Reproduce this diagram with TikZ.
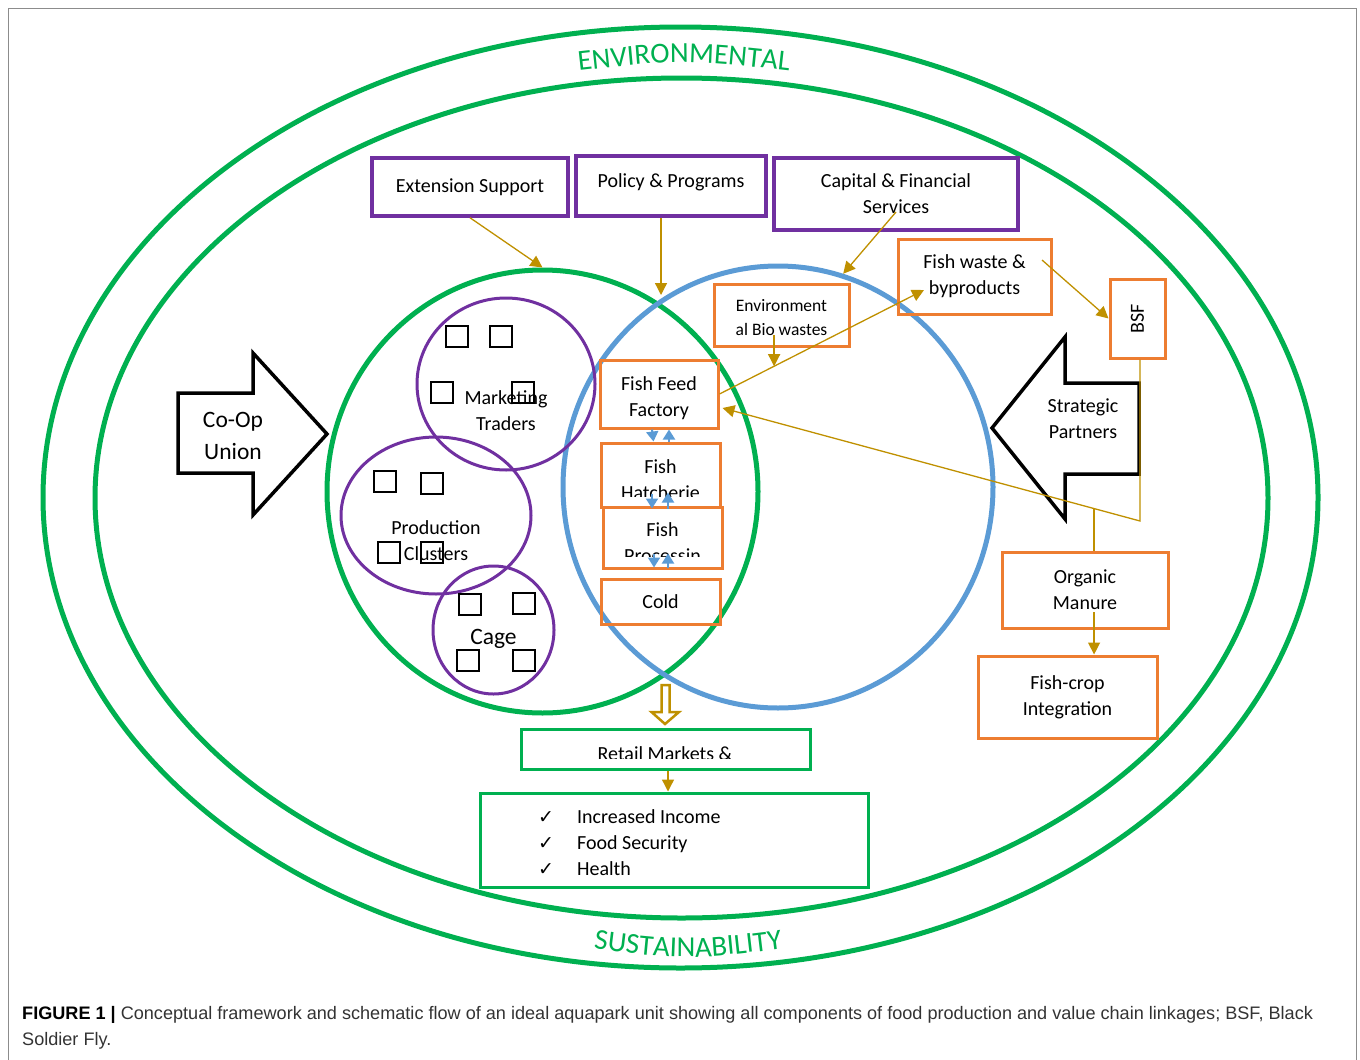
\documentclass[tikz,border=0pt]{standalone}
\usepackage{fontspec}
\setmainfont{Carlito}
\newfontfamily\capfont{Liberation Sans}
\newfontfamily\tickfont{DejaVu Sans}
\usetikzlibrary{shapes.geometric,arrows.meta,decorations.text}

\definecolor{ringgreen}{HTML}{00B050}
\definecolor{orgpurple}{HTML}{7030A0}
\definecolor{chainblue}{HTML}{5B9BD5}
\definecolor{unitorange}{HTML}{ED7D31}
\definecolor{flowgold}{HTML}{BF9000}

\tikzset{
  txt/.style={font=\fontsize{20}{26}\selectfont, align=center, inner sep=0pt},
  pbox/.style={txt, draw=orgpurple, line width=3.5pt},
  obox/.style={txt, draw=unitorange, line width=3pt},
  gbox/.style={txt, draw=ringgreen, line width=3pt},
  ring/.style={ellipse, draw=ringgreen, line width=5pt, inner sep=0pt},
  cluster/.style={ellipse, draw=orgpurple, line width=3pt, inner sep=0pt},
  feedline/.style={draw=flowgold, line width=1.3pt},
  flow/.style={feedline, -{Triangle[length=12pt,width=12pt]}},
  bflow/.style={draw=chainblue, line width=2pt, -{Triangle[length=10pt,width=12pt]}},
  bigarrow/.style={draw=black, line width=3.5pt, line join=miter},
  sq/.style={draw=black, line width=2pt},
}

\begin{document}
\begin{tikzpicture}[x=1pt,y=-1pt]
\useasboundingbox (0,0) rectangle (1360,1060);
\draw[black!45, line width=1pt] (8,8) rectangle (1356,1075);

% sustainability rings
\node[ring, minimum width=1275pt, minimum height=941pt] (outerring) at (680.5,497.5) {};
\node[ring, minimum width=1173pt, minimum height=840pt] (innerring) at (681.5,498) {};
\path[decorate, decoration={text along path, text align=center,
  text={|\fontsize{29}{29}\selectfont\color{ringgreen}|ENVIRONMENTAL}}]
  (560,73) .. controls (684,59) .. (808,73);
\path[decorate, decoration={text along path, text align=center,
  text={|\fontsize{29}{29}\selectfont\color{ringgreen}|SUSTAINABILITY}}]
  (566,945) .. controls (688,961) .. (810,945);

% value chain zones
\node[ring, minimum width=431pt, minimum height=443pt] (valuechain) at (542.5,491.5) {};
\node[ellipse, draw=chainblue, line width=5pt, inner sep=0pt,
  minimum width=430pt, minimum height=442pt] (bluezone) at (778,487) {};

% clusters
\node[cluster, minimum width=178pt, minimum height=172pt] (market) at (506,384) {};
\node[cluster, minimum width=190pt, minimum height=157pt] (production) at (436,515.5) {};
\node[cluster, minimum width=121pt, minimum height=128pt] (cage) at (493.5,630) {};
\foreach \x/\y in {457/336, 501/336, 441.5/392.5, 522.5/392.5,
                   385/481.5, 431.5/483.5, 388.5/552, 431.5/552,
                   469.5/604, 523.5/603.5, 467.5/660.5, 523.5/660.5}
  \draw[sq] (\x-11,\y-10.5) rectangle ++(22,21);
\node[txt] (markettxt) at (506,411) {Marketing\\Traders};
\node[txt] (productiontxt) at (436,541) {Production\\Clusters};
\node[txt, font=\fontsize{23.5}{30}\selectfont] (cagetxt) at (493.5,639) {Cage};

% support boxes
\node[pbox, minimum width=196pt, minimum height=58pt] (ext) at (470,187) {Extension Support};
\node[pbox, minimum width=190pt, minimum height=60pt, text depth=10pt] (policy) at (671,186) {Policy \& Programs};
\node[pbox, minimum width=244pt, minimum height=72pt] (capital) at (896,194) {Capital \& Financial\\Services};

% units
\node[obox, minimum width=153pt, minimum height=75pt] (fishwaste) at (974.5,276.5) {Fish waste \&\\byproducts};
\node[obox, minimum width=55pt, minimum height=79pt] (bsf) at (1137.5,318.5) {\rotatebox{90}{BSF}};
\node[obox, minimum width=135pt, minimum height=62pt, text height=42pt, font=\fontsize{17.5}{24}\selectfont] (envbio) at (781.5,315) {Environment\\al Bio wastes};
\node[obox, minimum width=118pt, minimum height=68pt, text height=48pt] (feed) at (659,394) {Fish Feed\\Factory};
\node[obox, minimum width=119pt, minimum height=64pt] (hatch) at (660.5,475) {};
\node[obox, minimum width=119pt, minimum height=61pt] (proc) at (662.5,537.5) {};
\node[obox, minimum width=119pt, minimum height=45pt] (cold) at (660.5,601.5) {Cold};
\begin{scope}
  \clip (hatch.north west) rectangle ([yshift=12pt]hatch.south east);
  \node[txt] (hatchtxt) at (660.5,480) {Fish\\Hatcherie};
\end{scope}
\begin{scope}
  \clip (proc.north west) rectangle ([yshift=13pt]proc.south east);
  \node[txt] (proctxt) at (662.5,543) {Fish\\Processin};
\end{scope}
\node[obox, minimum width=166pt, minimum height=76pt] (manure) at (1085,590) {Organic\\Manure};
\node[obox, minimum width=179pt, minimum height=82pt] (fishcrop) at (1067.5,697) {Fish-crop\\Integration};

% partners
\draw[bigarrow] (178,393) -- (253,393) -- (253,353) -- (327,434) -- (253,515) -- (253,473) -- (178,473) -- cycle;
\node[txt, font=\fontsize{23.5}{32}\selectfont] (coop) at (233,436) {Co-Op\\Union};
\draw[bigarrow] (1139,383) -- (1065,383) -- (1065,337) -- (992,428) -- (1065,519) -- (1065,474) -- (1139,474) -- cycle;
\node[txt] (partners) at (1083,419) {Strategic\\Partners};

% outputs
\node[gbox, minimum width=289pt, minimum height=40pt] (retail) at (665.5,749) {};
\begin{scope}
  \clip (retail.north west) rectangle ([yshift=12pt]retail.south east);
  \node[txt] (retailtxt) at (665,754) {Retail Markets \&};
\end{scope}
\node[gbox, minimum width=388pt, minimum height=94pt] (benefits) at (674,840) {};
\node[txt, anchor=west, align=left] (benefitlist) at (538,842.5)
  {{\tickfont\fontsize{19}{26}\selectfont ✓}\hspace{23pt}Increased Income\\
   {\tickfont\fontsize{19}{26}\selectfont ✓}\hspace{23pt}Food Security\\
   {\tickfont\fontsize{19}{26}\selectfont ✓}\hspace{23pt}Health};

% flows
\coordinate (inflow) at (661,295);
\coordinate (bend) at (1140,521);
\coordinate (feedin) at ([xshift=3pt,yshift=-14pt]feed.east);
\coordinate (wastein) at ([xshift=-50.5pt,yshift=-13.5pt]fishwaste.center);
\coordinate (dropdown) at (665,685);
\path (feed.east) -- (wastein) coordinate[pos=0.267] (joinpt);
\path (bend) -- (feedin) coordinate[pos=0.11] (tap);

\draw[flow] (ext.south) -- (valuechain.north);
\draw[flow] (policy.south -| inflow) -- (inflow);
\draw[flow] ([yshift=-18pt]capital.center) -- (bluezone.73);
\draw[flow] (feed.east) -- (wastein);
\draw[flow] ([yshift=-20pt]envbio.center -| joinpt) -- (joinpt);
\draw[flow] ([xshift=67.5pt,yshift=16.5pt]fishwaste.center) -- (bsf.west);
\draw[flow] (bsf.south -| bend) -- (bend) -- (feedin);
\draw[feedline] (tap) -- (tap |- manure.north);
\draw[flow] ([yshift=-22pt]manure.center -| tap) -- (fishcrop.north -| tap);
\draw[flow] ([xshift=2.5pt]retail.south) -- ([xshift=2.5pt]retail.south |- benefits.north);
\draw[draw=flowgold, line width=2.5pt, line join=miter]
  (dropdown) ++(-3.5,0) -- ++(0,27) -- ++(-10,0) -- (665,724) -- (679,712) -- (669.5,712) -- (669.5,685) -- cycle;

\draw[bflow] ([xshift=-7pt]feed.south) -- ([xshift=-7pt]hatch.north);
\draw[bflow] ([xshift=8.5pt]hatch.north) -- ([xshift=8.5pt]hatch.north |- feed.south);
\draw[bflow] ([xshift=-8.5pt,yshift=15pt]hatch.south) -- ([xshift=-8.5pt]hatch.south);
\draw[bflow] ([xshift=7.5pt]hatch.south) -- ([xshift=7.5pt,yshift=16pt]hatch.south);
\draw[bflow] ([xshift=-8.5pt,yshift=16pt]proc.south) -- ([xshift=-8.5pt,yshift=2pt]proc.south);
\draw[bflow] ([xshift=5.5pt,yshift=2pt]proc.south) -- ([xshift=5.5pt,yshift=16pt]proc.south);

% caption
\node[anchor=west, align=left, inner sep=0pt, text=black!80,
  font=\capfont\fontsize{18.1}{26}\selectfont] (caption) at (22,1028)
  {{\color{black}\bfseries FIGURE 1 |} Conceptual framework and schematic flow of an ideal aquapark unit showing all components of food production and value chain linkages; BSF, Black\\Soldier Fly.};
\end{tikzpicture}
\end{document}
